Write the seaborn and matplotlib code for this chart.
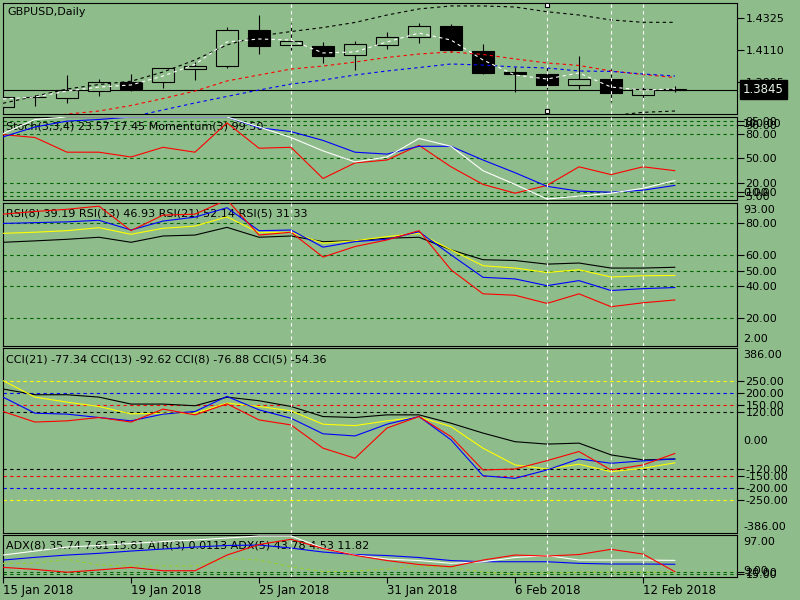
import numpy as np
import pandas as pd
import matplotlib
matplotlib.use("Agg")
import matplotlib.pyplot as plt
import matplotlib.transforms as mtransforms
import seaborn as sns

# ---------------- data ----------------
bars = np.arange(22)
tick_bars = [0, 4, 8, 12, 16, 20]
tick_labels = ["15 Jan 2018", "19 Jan 2018", "25 Jan 2018", "31 Jan 2018", "6 Feb 2018", "12 Feb 2018"]
marker_bars = [9, 17, 19, 20]

open_ = [1.3731, 1.3794, 1.3791, 1.3834, 1.3897, 1.3895, 1.3986, 1.4002, 1.4246, 1.4144, 1.4139,
         1.4076, 1.4148, 1.4197, 1.4273, 1.4103, 1.3966, 1.3949, 1.3879, 1.3915, 1.3812, 1.3848]
high = [1.3803, 1.3810, 1.3944, 1.3915, 1.3951, 1.3990, 1.4033, 1.4267, 1.4347, 1.4295, 1.4166,
        1.4170, 1.4233, 1.4291, 1.4285, 1.4152, 1.4000, 1.4000, 1.4072, 1.3982, 1.3877, 1.3870]
low = [1.3722, 1.3736, 1.3756, 1.3805, 1.3839, 1.3859, 1.3910, 1.3993, 1.4083, 1.4112, 1.4027,
       1.3980, 1.4121, 1.4161, 1.4101, 1.3951, 1.3832, 1.3848, 1.3848, 1.3765, 1.3776, 1.3830]
close = [1.3794, 1.3795, 1.3843, 1.3895, 1.3848, 1.3989, 1.4002, 1.4244, 1.4141, 1.4170, 1.4074,
         1.4152, 1.4199, 1.4273, 1.4114, 1.3959, 1.3951, 1.3879, 1.3917, 1.3825, 1.3848, 1.3845]
last_price = 1.3845
price_ticks = [1.4325, 1.4110, 1.3895]

band_upper = [1.3754, 1.3801, 1.3850, 1.3880, 1.3902, 1.3964, 1.4045, 1.4146, 1.4206, 1.4236, 1.4263,
              1.4297, 1.4347, 1.4388, 1.4408, 1.4408, 1.4401, 1.4369, 1.4347, 1.4314, 1.4298, 1.4298]
band_lower = [np.nan] * 18 + [1.3640, 1.3671, 1.3693, 1.3702]
ma_white = [1.3783, 1.3796, 1.3836, 1.3863, 1.3877, 1.3937, 1.4015, 1.4166, 1.4186, 1.4179, 1.4092,
            1.4099, 1.4166, 1.4226, 1.4179, 1.4045, 1.3944, 1.3917, 1.3958, 1.3863, 1.3843, 1.3850]
ma_red = [1.3630, 1.3655, 1.3681, 1.3702, 1.3739, 1.3786, 1.3836, 1.3904, 1.3944, 1.3984, 1.4004,
          1.4031, 1.4062, 1.4085, 1.4099, 1.4082, 1.4052, 1.4025, 1.4008, 1.3971, 1.3947, 1.3927]
ma_blue = [np.nan, np.nan, np.nan, 1.3625, 1.3662, 1.3709, 1.3756, 1.3800, 1.3843, 1.3883, 1.3910,
           1.3944, 1.3971, 1.3994, 1.4018, 1.4011, 1.3998, 1.3991, 1.3971, 1.3968, 1.3951, 1.3937]

stoch_main = [80, 97, 100, 100, 100, 100, 100, 100, 88, 75.3, 59.2, 45.9, 51.8, 74.1, 64.7, 35.3,
              18.8, 1.2, 4.7, 8.2, 14.1, 23.5]
stoch_signal = [76, 88, 95, 97, 100, 100, 100, 100, 87, 82.4, 71.8, 57.6, 55.3, 64.7, 64.7, 48.2,
                32.9, 16.5, 10.6, 9.4, 11.8, 17.6]
momentum = [78.8, 75.3, 57.6, 57.6, 51.8, 63.5, 57.6, 92.9, 62.4, 63.5, 25.9, 44.7, 48.2, 65.9, 40.0,
            18.8, 8.2, 17.6, 40.0, 30.6, 40.0, 35.3]
stoch_levels = [95, 90, 80, 50, 20, 10, 5]

rsi8 = [80, 80.5, 81, 82, 75.8, 81.5, 84, 90, 75.4, 75.8, 64.9, 68.4, 69.9, 74.7, 60, 45.7, 44.7,
        40.4, 43.6, 37.3, 38.5, 39.2]
rsi13 = [73.7, 74.4, 75.4, 77.3, 73.1, 76.9, 78.3, 84.2, 74.1, 74.4, 67.4, 69.0, 71.6, 73.7, 63.2,
         53.1, 51.6, 48.8, 50.5, 45.9, 46.7, 46.9]
rsi21 = [68.0, 68.9, 69.9, 71.2, 68.0, 72.0, 72.6, 77.5, 71.2, 72.0, 68.4, 69.0, 70.6, 71.2, 63.2,
         56.9, 56.4, 54.1, 54.8, 51.6, 51.6, 52.1]
rsi5 = [85.9, 87.6, 89, 91, 75.4, 85.3, 85.9, 95, 72.6, 74.4, 58.6, 65.3, 69.5, 75.4, 50.5, 35.2,
        34.3, 29.1, 35.2, 27, 29.5, 31.3]
rsi_levels = [80, 60, 50, 40, 20]

cci21 = [215, 191, 191, 181, 152, 152, 145, 181, 166, 142, 100, 96, 107, 107, 72, 31, -5, -15, -11,
         -60, -81, -77]
cci13 = [250, 181, 160, 142, 111, 114, 114, 156, 142, 124, 68, 62, 82, 98, 58, -32, -102, -119, -99,
         -130, -116, -93]
cci8 = [181, 114, 110, 96, 82, 110, 121, 184, 128, 93, 28, 19, 68, 100, 3, -147, -158, -123, -77,
        -95, -85, -77]
cci5 = [121, 77, 82, 96, 77, 131, 107, 153, 86, 65, -32, -74, 52, 100, 16, -123, -119, -84, -46,
        -123, -102, -54]
cci_levels = [250, 200, 150, 120, -120, -150, -200, -250]
cci_level_colors = ["yellow", "blue", "red", "black", "black", "red", "blue", "yellow"]

adx5 = [55.0, 63.4, 71.8, 75, 79.2, 83.4, 86.5, 90.7, 94.9, 94.9, 69.7, 55, 46.6, 43.5, 37.6, 41,
        49.8, 54, 44.5, 44.5, 44.5, 43.8]
adx8 = [44.5, 50.2, 55, 58.6, 63.4, 67.6, 71.8, 75, 76, 69.7, 61.3, 56.1, 54, 49.8, 43.5, 41, 41,
        41, 37.6, 36.2, 36.2, 35.7]
atr3 = [29.2, 24.9, 19, 23.8, 29.1, 22.1, 22.1, 55, 77, 88, 68.8, 54.4, 43.5, 35.1, 30.5, 44.5, 55,
        52.9, 56.1, 67, 57.1, 20]
adx_di = [37.6, 37.6, 46, 34, 32, 32, 32, 48.1, 44.5, 30.5, 20, 21.5, 25.7, 32, 29.2, 19.3, 15, 17,
          19, 19, 19, 19]
adx_levels = [20, 15]

# ---------------- style ----------------
BG = "#8fbc8b"
GRID = "#006400"
DASH = (0, (3, 3))
FS = 8
LW = 0.8
sns.set_theme(style="white", rc={"axes.facecolor": BG, "figure.facecolor": BG,
                                 "axes.edgecolor": "black", "axes.linewidth": LW,
                                 "text.color": "black", "xtick.color": "black",
                                 "ytick.color": "black"})
plt.rcParams["font.family"] = ["DejaVu Sans"]
plt.rcParams["font.size"] = FS

W, H = 800, 600
fig = plt.figure(figsize=(8, 6), dpi=100)
X0, X1 = 3, 737


def panel(top, bottom):
    return fig.add_axes([X0 / W, 1 - bottom / H, (X1 - X0) / W, (bottom - top) / H])


ax_main = panel(3, 114)
ax_sto = panel(117, 200)
ax_rsi = panel(203, 346)
ax_cci = panel(348, 533)
ax_adx = panel(535, 577)
axes = [ax_main, ax_sto, ax_rsi, ax_cci, ax_adx]

xmax = (X1 - X0) / 32.0


def line(ax, y, color, dashed=False, lw=LW, z=4):
    sns.lineplot(x=bars, y=y, ax=ax, color=color, lw=lw, legend=False,
                 linestyle=DASH if dashed else "-", zorder=z)


def px_off(ax, dx, dy):
    return mtransforms.offset_copy(ax.transAxes, fig=fig, x=dx, y=-dy, units="dots")


def side_label(ax, ya, text, dy):
    ax.text(1, ya, text, transform=px_off(ax, 6, dy), va="center", ha="left",
            fontsize=FS, color="black", clip_on=False)


for ax in axes:
    ax.set_facecolor(BG)
    ax.set_xlim(0, xmax)
    for s in ax.spines.values():
        s.set_color("black")
        s.set_linewidth(LW)
    ax.yaxis.set_ticks_position("right")
    ax.tick_params(axis="y", direction="out", length=5, width=LW, colors="black",
                   labelsize=FS, pad=1)
    ax.set_xlabel("")
    ax.set_ylabel("")
    for b in marker_bars:
        ax.axvline(b, color="white", lw=LW, linestyle=DASH, zorder=5)

# ---------------- main panel ----------------
ax = ax_main
o = np.array(open_); c = np.array(close)
bottoms = np.minimum(o, c)
heights = np.maximum(np.abs(c - o), 0.00006)
cols = ["black" if cc < oo else BG for oo, cc in zip(o, c)]
ax.vlines(bars, low, high, color="black", lw=LW, zorder=3)
ax.bar(bars, heights, bottom=bottoms, width=0.69, color=cols, edgecolor="black",
       linewidth=LW, zorder=3.5)
line(ax, band_upper, "black", dashed=True)
line(ax, band_lower, "black", dashed=True)
line(ax, ma_red, "red", dashed=True)
line(ax, ma_blue, "blue", dashed=True)
line(ax, ma_white, "white", dashed=True)
ax.axhline(last_price, color="black", lw=LW, zorder=3)
ax.set_ylim(1.36819, 1.44278)
ax.set_yticks(price_ticks)
ax.set_yticklabels([f"{v:.4f}" for v in price_ticks])
ax.text(1.0, last_price, f"{last_price:.4f}", color="#e8f4e8", fontsize=FS + 0.5, va="center",
        ha="left", transform=mtransforms.offset_copy(
            mtransforms.blended_transform_factory(ax.transAxes, ax.transData),
            fig=fig, x=6, y=0, units="dots"),
        bbox=dict(boxstyle="square,pad=0.25", fc="black", ec="black"), clip_on=False, zorder=10)
trans = mtransforms.blended_transform_factory(ax.transData, ax.transAxes)
ax.plot([17, 17], [0.982, 0.027], "s", ms=3.5, mfc="white", mec="black", mew=0.8,
        transform=trans, clip_on=False, zorder=6)
ax.text(0, 1, "GBPUSD,Daily", transform=px_off(ax, 4, 9), va="center", ha="left",
        fontsize=FS, color="black")

# ---------------- stochastic panel ----------------
ax = ax_sto
for lv in stoch_levels:
    ax.axhline(lv, color=GRID, lw=LW, linestyle=DASH, zorder=1)
line(ax, momentum, "red")
line(ax, stoch_signal, "blue")
line(ax, stoch_main, "white")
ax.set_ylim(0, 100)
ax.set_yticks(stoch_levels)
ax.set_yticklabels([f"{v:.2f}" for v in stoch_levels])
side_label(ax, 1, "100.00", 7)
side_label(ax, 0, "0.00", -7)
ax.text(0, 1, "Stoch(3,3,4) 23.57 17.45 Momentum(3) 99.50", transform=px_off(ax, 3, 10),
        va="center", ha="left", fontsize=FS, color="black")

# ---------------- RSI panel ----------------
ax = ax_rsi
for lv in rsi_levels:
    ax.axhline(lv, color=GRID, lw=LW, linestyle=DASH, zorder=1)
line(ax, rsi21, "black")
line(ax, rsi13, "yellow")
line(ax, rsi8, "blue")
line(ax, rsi5, "red")
ax.set_ylim(2, 93)
ax.set_yticks(rsi_levels)
ax.set_yticklabels([f"{v:.2f}" for v in rsi_levels])
side_label(ax, 1, "93.00", 7)
side_label(ax, 0, "2.00", -7)
ax.text(0, 1, "RSI(8) 39.19 RSI(13) 46.93 RSI(21) 52.14 RSI(5) 31.33", transform=px_off(ax, 3, 11),
        va="center", ha="left", fontsize=FS, color="black")

# ---------------- CCI panel ----------------
ax = ax_cci
for lv, col in zip(cci_levels, cci_level_colors):
    ax.axhline(lv, color=col, lw=LW, linestyle=DASH, zorder=1)
line(ax, cci21, "black")
line(ax, cci13, "yellow")
line(ax, cci8, "blue")
line(ax, cci5, "red")
ax.set_ylim(-386, 386)
ax.set_yticks(cci_levels)
ax.set_yticklabels([f"{v:.2f}" for v in cci_levels])
side_label(ax, 1, "386.00", 7)
side_label(ax, 0, "-386.00", -6)
side_label(ax, 0.5, "0.00", 0)
ax.text(0, 1, "CCI(21) -77.34 CCI(13) -92.62 CCI(8) -76.88 CCI(5) -54.36", transform=px_off(ax, 3, 11),
        va="center", ha="left", fontsize=FS, color="black")

# ---------------- ADX panel ----------------
ax = ax_adx
for lv in adx_levels:
    ax.axhline(lv, color=GRID, lw=LW, linestyle=DASH, zorder=1)
line(ax, adx_di, "yellowgreen", dashed=True)
line(ax, adx8, "blue")
line(ax, adx5, "white")
line(ax, atr3, "red")
ax.set_ylim(9, 97)
ax.set_yticks(adx_levels)
ax.set_yticklabels([f"{v:.2f}" for v in adx_levels])
side_label(ax, 1, "97.00", 7)
side_label(ax, 0, "9.00", -6)
ax.text(0, 1, "ADX(8) 35.74 7.61 15.81 ATR(3) 0.0113 ADX(5) 43.78 4.53 11.82",
        transform=px_off(ax, 3, 11), va="center", ha="left", fontsize=FS, color="black")

for a in axes[:-1]:
    a.set_xticks([])
ax_adx.set_xticks(tick_bars)
ax_adx.set_xticklabels(tick_labels)
ax_adx.tick_params(axis="x", direction="out", length=4, width=LW, colors="black",
                   labelsize=FS + 0.5, pad=1, bottom=True)
for lab in ax_adx.get_xticklabels():
    lab.set_ha("left")

fig.savefig("out.png", dpi=100, facecolor=BG)
